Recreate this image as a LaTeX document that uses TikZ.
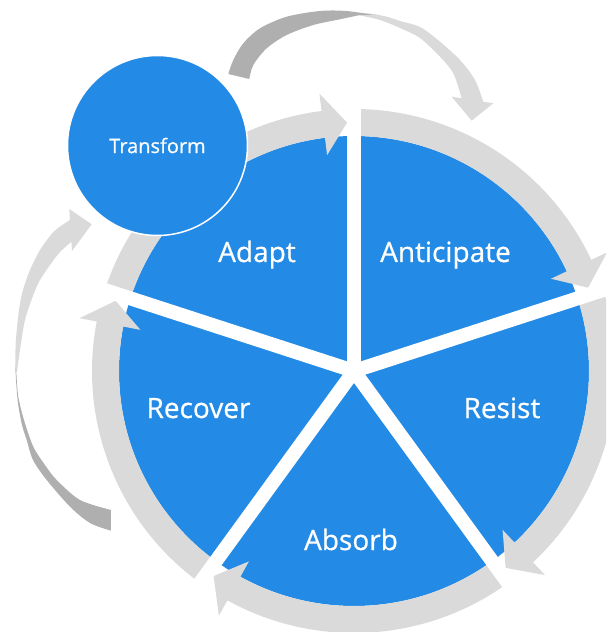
\documentclass[tikz,border=0pt]{standalone}
\usepackage{fontspec}
\setmainfont{Open Sans}
\newfontfamily\labelfont{Open Sans}[FakeBold=0.7]
\definecolor{pieblue}{HTML}{238AE5}
\definecolor{ringgray}{HTML}{DADADA}
\definecolor{ribbondark}{HTML}{AFAFAF}
\tikzset{
  sectorlabel/.style={text=white,font=\labelfont\fontsize{28}{34}\selectfont,anchor=base},
  gapline/.style={white,line width=14pt},
  transformdisc/.style={circle,fill=pieblue,draw=white,line width=1.5pt,minimum size=180pt,
    text=white,font=\labelfont\fontsize{20}{24}\selectfont}
}
\begin{document}
\begin{tikzpicture}[x=1pt,y=1pt]
  \useasboundingbox (-354,-261) rectangle (252,371);
  \clip (-354,-261) rectangle (252,371);
  \coordinate (hub) at (0,0);

  \fill[pieblue] (hub) circle[radius=235pt];
  \foreach \a [evaluate=\a as \t using \a-70.4, evaluate=\a as \h using \a-64.9] in {162,90,18,-54,-126}
    \fill[ringgray] (\a:262pt) arc[start angle=\a,end angle=\h,radius=262pt] -- (\h:279.5pt)
      -- (\t:248.5pt) -- (\h:217.5pt) -- (\h:235pt) arc[start angle=\h,end angle=\a,radius=235pt] -- cycle;
  \foreach \a in {90,18,-54,-126,162}
    \draw[gapline] (hub) -- (\a:272pt);

  % ribbon over the top
  \fill[ringgray] plot[smooth] coordinates {(-4,358.5) (16,357.5) (32.7,354.3) (46,350) (66,344) (84,331)
      (106,311) (121,291) (129.3,269.3)} -- (139.3,267.7) -- (117.7,250.3) -- (97.7,274.3)
    -- plot[smooth] coordinates {(107.7,272.7) (99.3,297.7) (86,314.3) (66,333) (46,343) (26,351) (6,355.5)} -- cycle;
  \fill[ribbondark] plot[smooth] coordinates {(-125.7,297) (-120.7,311) (-110.7,327.7) (-94,342.7) (-67.3,354.3)
      (-34,360) (-7.3,360) (19,356)}
    -- plot[smooth] coordinates {(6,356) (-14,351.7) (-40.7,346) (-67.3,336) (-87.3,322.7) (-100.7,306) (-104.7,292)} -- cycle;

  % ribbon on the left
  \fill[ringgray] plot[smooth] coordinates {(-338.5,-1) (-338.3,28) (-335,61) (-331,81) (-324,101) (-314,121)
      (-304,135) (-296,143) (-284,151)} -- (-284.7,162) -- (-262.3,146.7) -- (-282,120)
    -- plot[smooth] coordinates {(-282.6,129.3) (-294,119) (-304,106) (-314,91) (-320.7,76) (-329,51) (-334,21) (-337,-1)} -- cycle;
  \fill[ribbondark] plot[smooth] coordinates {(-338.5,6) (-338,-9) (-336,-32) (-332,-54) (-327.3,-69) (-321,-89)
      (-307.3,-109) (-284,-135.7) (-264,-152) (-243,-159.7)}
    -- plot[smooth] coordinates {(-243,-139) (-274,-129) (-297.3,-109) (-309,-94) (-320.7,-75.7) (-330,-49)
      (-335.7,-25.7) (-337.5,-4)} -- cycle;

  \node[transformdisc] (transform) at (-196.5,225.5) {Transform};

  \node[sectorlabel] (adapt) at (-97,109) {Adapt};
  \node[sectorlabel] (anticipate) at (91.5,109) {Anticipate};
  \node[sectorlabel] (resist) at (148,-47) {Resist};
  \node[sectorlabel] (absorb) at (-3,-179) {Absorb};
  \node[sectorlabel] (recover) at (-155.5,-47) {Recover};
\end{tikzpicture}
\end{document}
